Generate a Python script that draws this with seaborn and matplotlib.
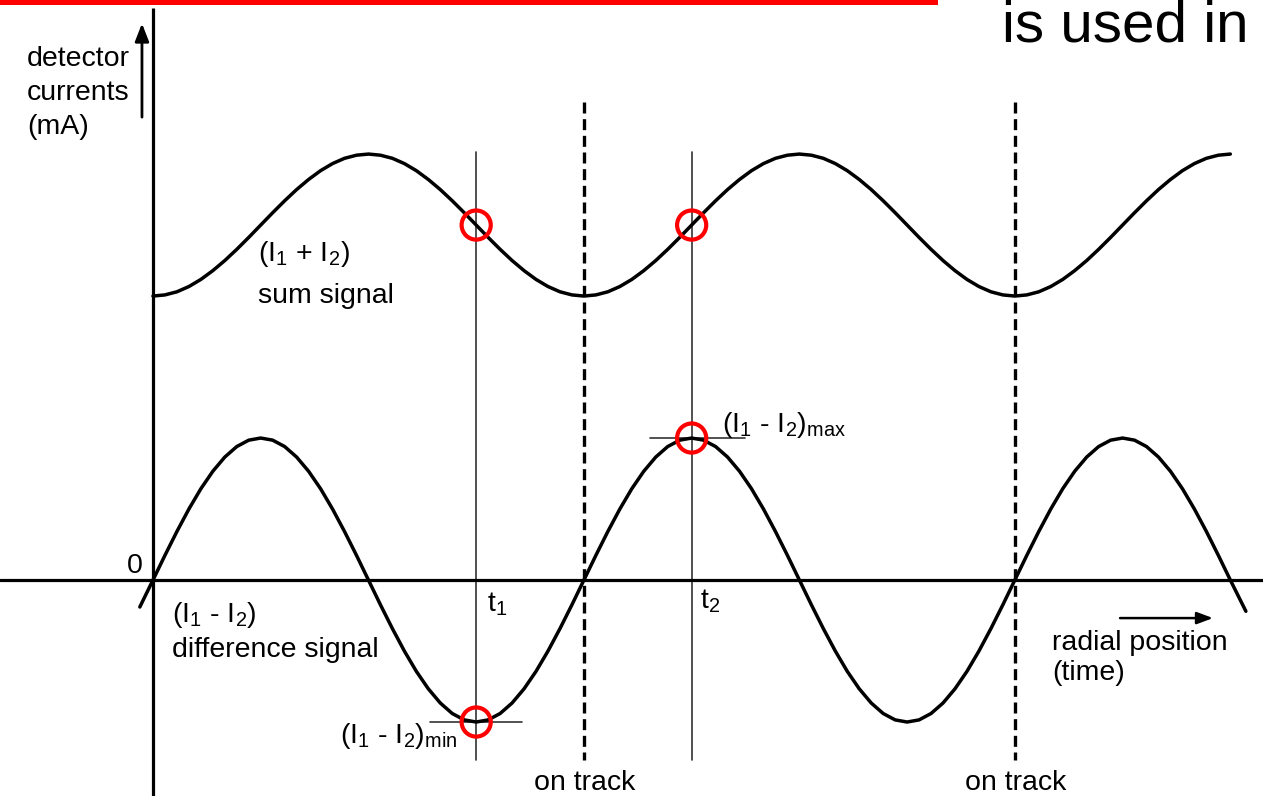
import matplotlib
matplotlib.use("Agg")
import matplotlib.pyplot as plt
import numpy as np
import pandas as pd
import seaborn as sns

# phase of the radial position, in degrees (one track pitch = 360 deg)
phase_deg = [-11] + list(range(0, 901, 10)) + [913]

# difference signal (I1 - I2), normalised so the peaks sit at +/-1
diff_signal = [
    -0.19,
    0.0, 0.174, 0.342, 0.5, 0.643, 0.766, 0.866, 0.940, 0.985, 1.0,
    0.985, 0.940, 0.866, 0.766, 0.643, 0.5, 0.342, 0.174, 0.0,
    -0.174, -0.342, -0.5, -0.643, -0.766, -0.866, -0.940, -0.985, -1.0,
    -0.985, -0.940, -0.866, -0.766, -0.643, -0.5, -0.342, -0.174,
    0.0, 0.174, 0.342, 0.5, 0.643, 0.766, 0.866, 0.940, 0.985, 1.0,
    0.985, 0.940, 0.866, 0.766, 0.643, 0.5, 0.342, 0.174, 0.0,
    -0.174, -0.342, -0.5, -0.643, -0.766, -0.866, -0.940, -0.985, -1.0,
    -0.985, -0.940, -0.866, -0.766, -0.643, -0.5, -0.342, -0.174,
    0.0, 0.174, 0.342, 0.5, 0.643, 0.766, 0.866, 0.940, 0.985, 1.0,
    0.985, 0.940, 0.866, 0.766, 0.643, 0.5, 0.342, 0.174, 0.0,
    -0.22,
]

# sum signal (I1 + I2), swinging between 2 and 3
sum_phase_deg = list(range(0, 901, 10))
sum_signal = [
    2.0, 2.008, 2.030, 2.067, 2.117, 2.179, 2.25, 2.329, 2.413, 2.5,
    2.587, 2.671, 2.75, 2.821, 2.883, 2.933, 2.970, 2.992, 3.0,
    2.992, 2.970, 2.933, 2.883, 2.821, 2.75, 2.671, 2.587, 2.5,
    2.413, 2.329, 2.25, 2.179, 2.117, 2.067, 2.030, 2.008,
    2.0, 2.008, 2.030, 2.067, 2.117, 2.179, 2.25, 2.329, 2.413, 2.5,
    2.587, 2.671, 2.75, 2.821, 2.883, 2.933, 2.970, 2.992, 3.0,
    2.992, 2.970, 2.933, 2.883, 2.821, 2.75, 2.671, 2.587, 2.5,
    2.413, 2.329, 2.25, 2.179, 2.117, 2.067, 2.030, 2.008,
    2.0, 2.008, 2.030, 2.067, 2.117, 2.179, 2.25, 2.329, 2.413, 2.5,
    2.587, 2.671, 2.75, 2.821, 2.883, 2.933, 2.970, 2.992, 3.0,
]

# sampling instants t1, t2 and the signal values there
sample_times = [270, 450]
sample_labels = ["t$_1$", "t$_2$"]
sum_at_samples = [2.5, 2.5]
diff_at_samples = [-1.0, 1.0]

# on-track positions (zero crossings of the difference signal)
on_track = [360, 720]

sns.set_theme(style="white")
plt.rcParams["font.family"] = ["Liberation Sans", "DejaVu Sans"]
plt.rcParams["mathtext.default"] = "regular"
plt.rcParams["text.color"] = "black"

fig = plt.figure(figsize=(12.63, 7.96), dpi=100)
ax = fig.add_axes([0, 0, 1, 1])
ax.set_xlim(-127.8, 927.3)
ax.set_ylim(-1.521, 4.085)
ax.set_axis_off()

diff_df = pd.DataFrame({"phase": phase_deg, "current": diff_signal})
sum_df = pd.DataFrame({"phase": sum_phase_deg, "current": sum_signal})

# axes drawn as plain lines
ax.axhline(0, color="black", lw=2.3, zorder=2)
ax.plot([0, 0], [-1.6, 4.03], color="black", lw=2.3, solid_capstyle="butt", zorder=2)

# thin sampling lines and dashed on-track markers
for t in sample_times:
    ax.plot([t, t], [3.014, -1.27], color="#333333", lw=1.2, zorder=1)
for p in on_track:
    ax.plot([p, p], [3.37, -1.27], color="black", lw=2.4, dashes=(3.3, 1.7), zorder=1)

# extremum reference lines
ax.plot([231.4, 308.3], [-1, -1], color="#333333", lw=1.2, zorder=1)
ax.plot([415.2, 494.6], [1, 1], color="#333333", lw=1.2, zorder=1)

sns.lineplot(data=diff_df, x="phase", y="current", sort=False, color="black",
             lw=2.5, ax=ax, zorder=3)
sns.lineplot(data=sum_df, x="phase", y="current", sort=False, color="black",
             lw=2.5, ax=ax, zorder=3)

marks = pd.DataFrame({
    "phase": sample_times + sample_times,
    "current": sum_at_samples + diff_at_samples,
})
sns.scatterplot(data=marks, x="phase", y="current", marker="o", s=440,
                facecolor="none", edgecolor="#ff0000", linewidth=3.0, ax=ax, zorder=4)

# arrows
ax.annotate("", xy=(-9.2, 3.92), xytext=(-9.2, 3.26),
            arrowprops=dict(arrowstyle="-|>,head_length=0.9,head_width=0.35",
                            color="black", lw=2.0, shrinkA=0, shrinkB=0))
ax.annotate("", xy=(885.5, -0.268), xytext=(807.9, -0.268),
            arrowprops=dict(arrowstyle="-|>,head_length=0.8,head_width=0.3",
                            color="black", lw=1.8, shrinkA=0, shrinkB=0))

fs = 20.5
ax.text(-105.3, 3.622, "detector", fontsize=fs, va="baseline")
ax.text(-105.3, 3.380, "currents", fontsize=fs, va="baseline")
ax.text(-105.3, 3.140, "(mA)", fontsize=fs, va="baseline")

ax.text(87.7, 2.246, "(I$_1$ + I$_2$)", fontsize=fs, va="baseline")
ax.text(87.7, 1.953, "sum signal", fontsize=fs, va="baseline")

ax.text(15.9, -0.293, "(I$_1$ - I$_2$)", fontsize=fs, va="baseline")
ax.text(15.9, -0.540, "difference signal", fontsize=fs, va="baseline")

ax.text(254.0, -1.148, "(I$_1$ - I$_2$)$_{min}$", fontsize=fs, va="baseline", ha="right")
ax.text(475.4, 1.044, "(I$_1$ - I$_2$)$_{max}$", fontsize=fs, va="baseline")

ax.text(279.0, -0.223, sample_labels[0], fontsize=fs, va="baseline")
ax.text(457.0, -0.197, sample_labels[1], fontsize=fs, va="baseline")

ax.text(-15, 0.049, "0", fontsize=fs, va="baseline", ha="center")

ax.text(751.0, -0.493, "radial position", fontsize=fs, va="baseline")
ax.text(751.0, -0.704, "(time)", fontsize=fs, va="baseline")

for p in on_track:
    ax.text(p + 0.5, -1.479, "on track", fontsize=fs, va="baseline", ha="center")

# slide header elements
ax.axhspan(4.049, 4.085, xmin=0, xmax=938 / 1263, color="#ff0000", lw=0)
ax.text(709.3, 3.79, "is used in", fontsize=42, va="baseline")

fig.savefig("out.png", dpi=100)
